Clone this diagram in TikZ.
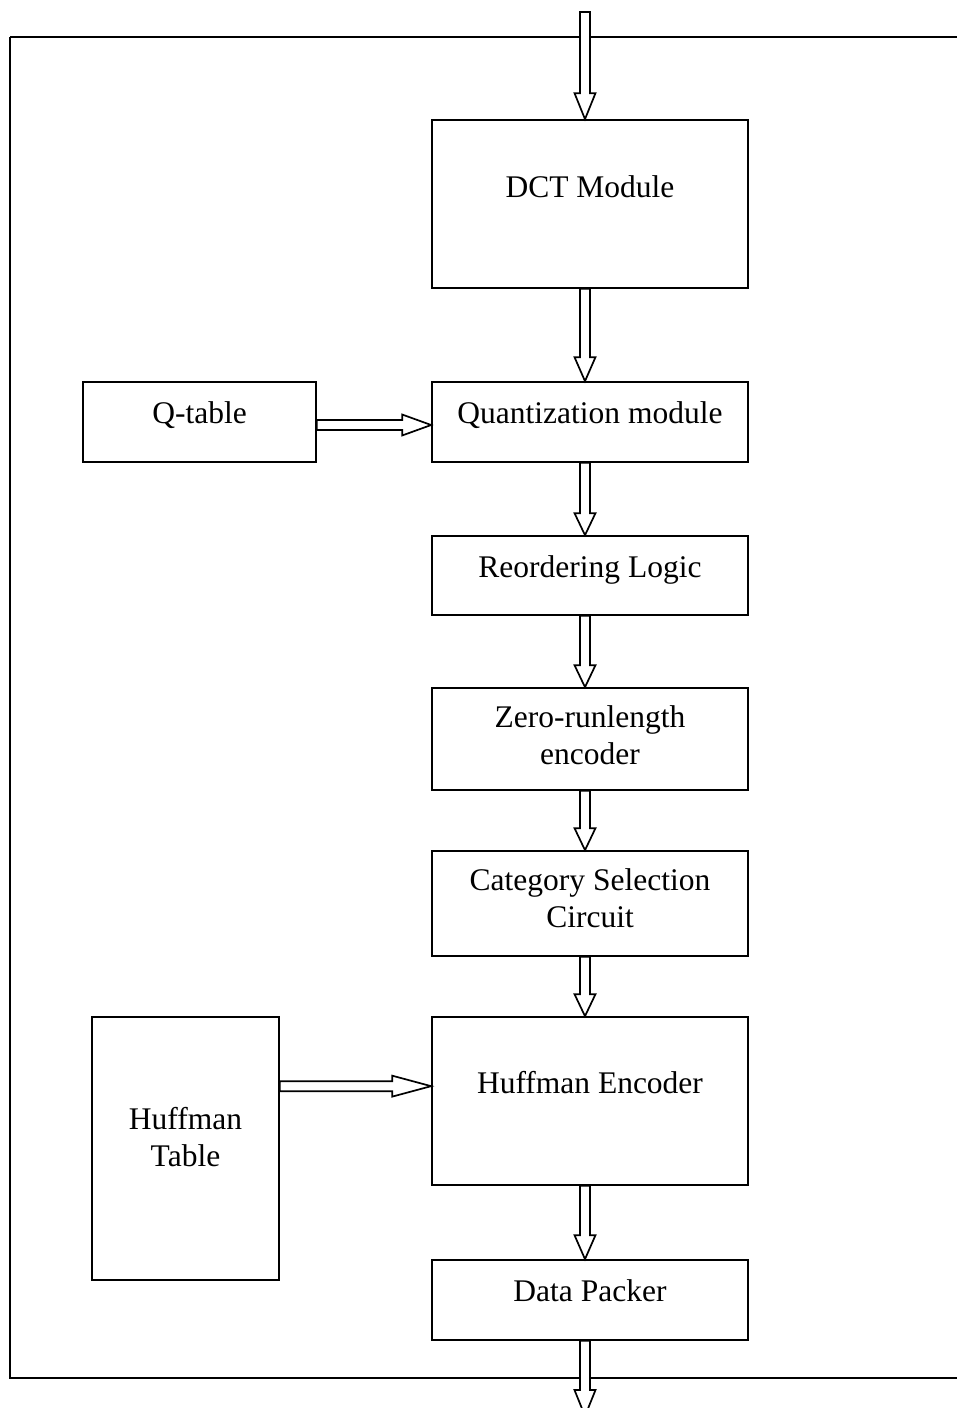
\documentclass[tikz,border=0pt]{standalone}
\usepackage{fontspec}
\setmainfont{Liberation Serif}
\usetikzlibrary{calc}

% hollow (outlined) block arrows: #1 = start, #2 = tip, #3 = head length
\newcommand\hollowdown[3]{%
  \draw[flow] let \p1=(#1), \p2=(#2) in
    (\x1-5pt,\y1) -- (\x1-5pt,\y2+#3) -- (\x1-10.5pt,\y2+#3) -- (\x1,\y2)
    -- (\x1+10.5pt,\y2+#3) -- (\x1+5pt,\y2+#3) -- (\x1+5pt,\y1) -- cycle;}
\newcommand\hollowright[3]{%
  \draw[flow] let \p1=(#1), \p2=(#2) in
    (\x1,\y1+5pt) -- (\x2-#3,\y1+5pt) -- (\x2-#3,\y1+10.5pt) -- (\x2,\y1)
    -- (\x2-#3,\y1-10.5pt) -- (\x2-#3,\y1-5pt) -- (\x1,\y1-5pt) -- cycle;}

\begin{document}
\begin{tikzpicture}[x=1pt,y=-1pt,
  box/.style={draw,line width=1.7pt,rectangle,inner sep=0pt,fill=white},
  lbl/.style={anchor=base,inner sep=0pt,align=center,
    font=\fontsize{31.5}{36.5}\selectfont},
  flow/.style={draw,line width=1.7pt,fill=white,line join=miter},
  frame/.style={draw,line width=2.2pt}]
\useasboundingbox (0,0) rectangle (956,1408);
\fill[white] (0,0) rectangle (956,1408);

% enclosing frame (runs off the right edge)
\draw[frame] (10,37) -- (990,37) (10,37) -- (10,1378) -- (990,1378);

% processing chain
\node[box,minimum width=316,minimum height=168] (dct)  at (590,204)   {};
\node[box,minimum width=316,minimum height=80]  (qnt)  at (590,422)   {};
\node[box,minimum width=316,minimum height=79]  (reo)  at (590,575.5) {};
\node[box,minimum width=316,minimum height=102] (zrl)  at (590,739)   {};
\node[box,minimum width=316,minimum height=105] (cat)  at (590,903.5) {};
\node[box,minimum width=316,minimum height=168] (henc) at (590,1101)  {};
\node[box,minimum width=316,minimum height=80]  (dp)   at (590,1300)  {};

% side tables
\node[box,minimum width=233,minimum height=80]  (qtab) at (199.5,422)  {};
\node[box,minimum width=187,minimum height=263] (htab) at (185.5,1148.5) {};

% labels (base anchor = baseline of the last line)
\node[lbl] (tdct)  at (590,197)  {DCT Module};
\node[lbl] (tqnt)  at (590,423)  {Quantization module};
\node[lbl] (treo)  at (590,577)  {Reordering Logic};
\node[lbl] (tzrl)  at (590,764)  {Zero-runlength\\encoder};
\node[lbl] (tcat)  at (590,927)  {Category Selection\\Circuit};
\node[lbl] (thenc) at (590,1093) {Huffman Encoder};
\node[lbl] (tdp)   at (590,1301) {Data Packer};
\node[lbl] (tqtab) at (199.5,423) {Q-table};
\node[lbl] (thtab) at (185.5,1166) {Huffman\\Table};

% external input / output
\coordinate (in)  at (585,12);
\coordinate (out) at (585,1416);

% block arrows
\hollowdown{in}{dct.north}{26pt}
\hollowdown{$(dct.south)+(-5,0)$}{qnt.north}{24pt}
\hollowdown{$(qnt.south)+(-5,0)$}{reo.north}{22pt}
\hollowdown{$(reo.south)+(-5,0)$}{zrl.north}{22pt}
\hollowdown{$(zrl.south)+(-5,0)$}{cat.north}{22pt}
\hollowdown{$(cat.south)+(-5,0)$}{henc.north}{22pt}
\hollowdown{$(henc.south)+(-5,0)$}{dp.north}{24pt}
\hollowdown{$(dp.south)+(-5,0)$}{out}{26pt}
\hollowright{$(qtab.east)+(0,3)$}{qnt.west}{29pt}
\hollowright{$(htab.north east)+(0,70)$}{henc.west}{39pt}
\end{tikzpicture}
\end{document}
